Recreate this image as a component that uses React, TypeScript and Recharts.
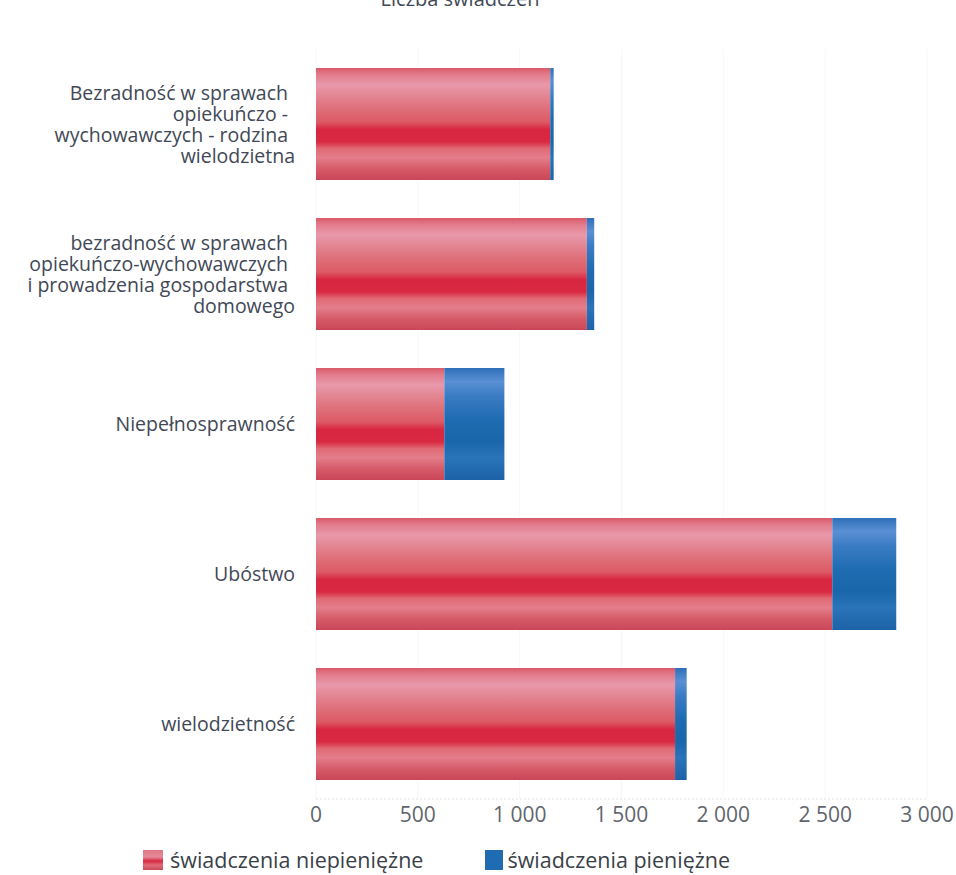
import React from "react";
import { BarChart, Bar, XAxis, YAxis, CartesianGrid, Legend } from "recharts";

const categories = [
  "Bezradność w sprawach opiekuńczo - wychowawczych - rodzina wielodzietna",
  "bezradność w sprawach opiekuńczo-wychowawczych i prowadzenia gospodarstwa domowego",
  "Niepełnosprawność",
  "Ubóstwo",
  "wielodzietność",
];
const categoryLines = [
  ["Bezradność w sprawach", "opiekuńczo -", "wychowawczych - rodzina", "wielodzietna"],
  ["bezradność w sprawach", "opiekuńczo-wychowawczych", "i prowadzenia gospodarstwa", "domowego"],
  ["Niepełnosprawność"],
  ["Ubóstwo"],
  ["wielodzietność"],
];
const nonCash = [1150, 1330, 630, 2535, 1763];
const cash = [17, 36, 295, 314, 57];
const xTicks = [0, 500, 1000, 1500, 2000, 2500, 3000];
const seriesNames = ["świadczenia niepieniężne", "świadczenia pieniężne"];
const title = "Liczba świadczeń";

const data = categories.map((name, i) => ({
  name,
  nonCash: nonCash[i],
  cash: cash[i],
}));

const FONT = "'Open Sans', 'DejaVu Sans', sans-serif";
const LABEL_COLOR = "#3f4856";

const fmt = (v: number) => String(v).replace(/\B(?=(\d{3})+(?!\d))/g, " ");

const CategoryTick = (props: any) => {
  const { x, y, payload } = props;
  const idx = categories.indexOf(payload.value);
  const lines = idx >= 0 ? categoryLines[idx] : [payload.value];
  const lh = 21;
  const start = -((lines.length - 1) * lh) / 2;
  return (
    <g>
      <text
        x={x}
        y={y}
        textAnchor="end"
        fontFamily={FONT}
        fontSize={19.5}
        fill={LABEL_COLOR}
      >
        {lines.map((l, i) => (
          <tspan
            key={i}
            x={x - 13 - (lines.length > 1 && i < lines.length - 1 ? 7 : 0)}
            y={y + start + i * lh}
            dy="0.36em"
          >
            {l}
          </tspan>
        ))}
      </text>
    </g>
  );
};

const Defs = () => (
  <defs>
    <linearGradient id="redGrad" x1="0" y1="0" x2="0" y2="1">
      <stop offset="0%" stopColor="#d95a68" />
      <stop offset="6%" stopColor="#e27c8c" />
      <stop offset="15%" stopColor="#e899ab" />
      <stop offset="25%" stopColor="#e38592" />
      <stop offset="38%" stopColor="#de6c76" />
      <stop offset="48%" stopColor="#dc5a66" />
      <stop offset="55%" stopColor="#d82640" />
      <stop offset="66%" stopColor="#d92a42" />
      <stop offset="72%" stopColor="#e06a76" />
      <stop offset="80%" stopColor="#e37e8a" />
      <stop offset="90%" stopColor="#d65a68" />
      <stop offset="100%" stopColor="#c94658" />
    </linearGradient>
    <linearGradient id="blueGrad" x1="0" y1="0" x2="0" y2="1">
      <stop offset="0%" stopColor="#2e70b8" />
      <stop offset="12%" stopColor="#5a90d4" />
      <stop offset="25%" stopColor="#3a7cc4" />
      <stop offset="45%" stopColor="#206cb2" />
      <stop offset="65%" stopColor="#1a66aa" />
      <stop offset="80%" stopColor="#2a74ba" />
      <stop offset="100%" stopColor="#1c62a6" />
    </linearGradient>
  </defs>
);

const LegendContent = () => (
  <div
    style={{
      display: "flex",
      alignItems: "center",
      height: 28,
      lineHeight: "28px",
      fontFamily: FONT,
      fontSize: 21.5,
      color: "#3a3f47",
      whiteSpace: "nowrap",
    }}
  >
    <svg width={20} height={20} style={{ marginRight: 7 }}>
      <defs>
        <linearGradient id="legRed" x1="0" y1="0" x2="0" y2="1">
          <stop offset="0%" stopColor="#e07886" />
          <stop offset="35%" stopColor="#e58a98" />
          <stop offset="55%" stopColor="#d82640" />
          <stop offset="75%" stopColor="#df6a76" />
          <stop offset="100%" stopColor="#cc4a5a" />
        </linearGradient>
      </defs>
      <rect width={20} height={20} fill="url(#legRed)" />
    </svg>
    <span style={{ marginRight: 62 }}>{seriesNames[0]}</span>
    <svg width={18} height={20} style={{ marginRight: 4 }}>
      <rect width={18} height={20} fill="#1f6cb3" />
    </svg>
    <span>{seriesNames[1]}</span>
  </div>
);

export default function App() {
  return (
    <div
      style={{
        position: "fixed",
        left: 0,
        top: 0,
        width: 956,
        height: 875,
        background: "#fff",
        overflow: "hidden",
      }}
    >
      <div
        style={{
          position: "absolute",
          left: 0,
          width: 920,
          top: -15,
          textAlign: "center",
          fontFamily: FONT,
          fontSize: 20,
          color: "#3f4856",
          zIndex: 2,
        }}
      >
        {title}
      </div>
      <BarChart
        width={956}
        height={875}
        layout="vertical"
        data={data}
        margin={{ top: 49, right: 29, left: 0, bottom: 46 }}
        barCategoryGap="12.7%"
      >
        <Defs />
        <CartesianGrid horizontal={false} stroke="#f5f7f9" />
        <XAxis
          type="number"
          domain={[0, 3000]}
          ticks={xTicks}
          tickFormatter={fmt}
          axisLine={{ stroke: "#dde4ea", strokeDasharray: "2 2" }}
          tickLine={false}
          tick={{ fill: "#5f656d", fontSize: 21, fontFamily: FONT }}
          height={30}
          interval={0}
        />
        <YAxis
          type="category"
          dataKey="name"
          width={316}
          axisLine={false}
          tickLine={false}
          tick={<CategoryTick />}
          interval={0}
        />
        <Legend
          verticalAlign="middle"
          align="center"
          content={<LegendContent />}
          wrapperStyle={{ position: "absolute", top: 846, left: 143, width: "auto" }}
        />
        <Bar
          dataKey="nonCash"
          name={seriesNames[0]}
          stackId="a"
          fill="url(#redGrad)"
          isAnimationActive={false}
        />
        <Bar
          dataKey="cash"
          name={seriesNames[1]}
          stackId="a"
          fill="url(#blueGrad)"
          isAnimationActive={false}
        />
      </BarChart>
    </div>
  );
}
